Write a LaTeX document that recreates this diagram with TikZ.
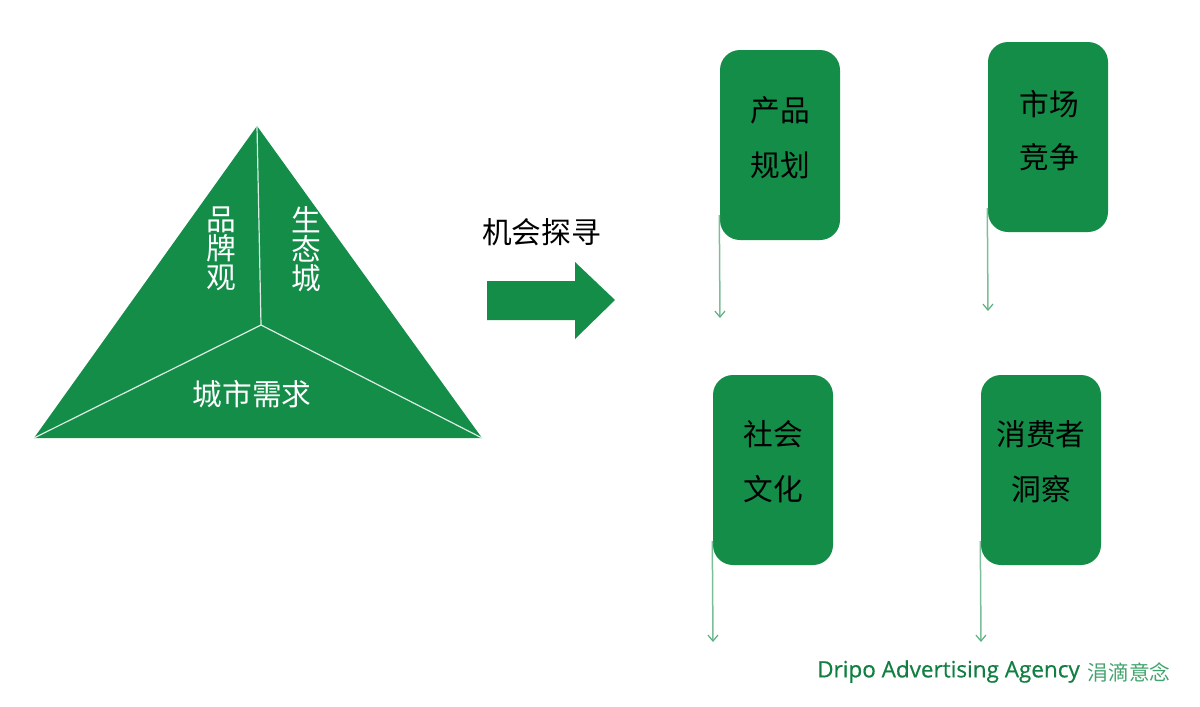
\documentclass[tikz,border=0pt]{standalone}
\usepackage{fontspec}
\setmainfont{Noto Sans CJK SC}
\newfontfamily\latinfont[FakeBold=0.6]{Open Sans}
\usetikzlibrary{arrows.meta}
\definecolor{dripgreen}{HTML}{138D48}
\definecolor{thingreen}{HTML}{7DBE9A}
\tikzset{card/.append style={minimum width=1.2cm, minimum height=1.9cm, fill=dripgreen, rounded corners=0.2cm, inner sep=0}}
\tikzset{cardtext/.append style={font=\fontsize{8.45}{8.45}\selectfont, align=center, inner sep=0}}
\tikzset{wedgetext/.append style={text=white, font=\fontsize{8.45}{8.3}\selectfont, align=center, inner sep=0}}
\tikzset{seam/.append style={draw=white!85!dripgreen, line width=0.012cm}}
\tikzset{drop/.append style={draw=thingreen, line width=0.015cm, -{Straight Barb[length=0.06cm,width=0.1cm,line width=0.012cm,dripgreen!70!white]}}}

\begin{document}
\begin{tikzpicture}
                \useasboundingbox (0,0) rectangle (12,7.06);
                % triangle
                \coordinate (top) at (2.57,5.80);
                \coordinate (left) at (0.34,2.68);
                \coordinate (right) at (4.82,2.68);
                \coordinate (mid) at (2.61,3.81);
                \fill[dripgreen] (top) -- (right) -- (left) -- cycle;
                \draw[seam] (top) -- (mid);
                \draw[seam] (left) -- (mid);
                \draw[seam] (right) -- (mid);
                \node[wedgetext] (brand) at (2.21,4.57) {品\\牌\\观};
                \node[wedgetext] (eco) at (3.06,4.57) {生\\态\\城};
                \node[wedgetext] (city) at (2.52,3.12) {城市需求};
                % big arrow
                \fill[dripgreen] (4.87,4.25) -- (5.75,4.25) -- (5.75,4.44) -- (6.15,4.06) -- (5.75,3.67) -- (5.75,3.86) -- (4.87,3.86) -- cycle;
                \node[cardtext] (seek) at (5.415,4.74) {机会探寻};
                % cards
                \node[card] (prod) at (7.80,5.61) {};
                \node[card] (market) at (10.48,5.69) {};
                \node[card] (social) at (7.73,2.36) {};
                \node[card] (consumer) at (10.41,2.36) {};
                \node[cardtext] (prodtext) at (7.80,5.685) {产品\\[0.25cm]规划};
                \node[cardtext] (markettext) at (10.49,5.755) {市场\\[0.24cm]竞争};
                \node[cardtext] (socialtext) at (7.735,2.445) {社会\\[0.25cm]文化};
                \node[cardtext] (consumertext) at (10.41,2.445) {消费者\\[0.25cm]洞察};
                % drops
                \coordinate (prodend) at (7.20,3.88);
                \coordinate (marketend) at (9.88,3.95);
                \coordinate (socialend) at (7.13,0.64);
                \coordinate (consumerend) at (9.81,0.64);
                \draw[drop] (prod.west |- 0,4.91) -- (prodend);
                \draw[drop] (market.west |- 0,4.98) -- (marketend);
                \draw[drop] (social.west |- 0,1.65) -- (socialend);
                \draw[drop] (consumer.west |- 0,1.65) -- (consumerend);
                % agency line
                \node[anchor=west, inner sep=0, text=dripgreen!90!black, font=\latinfont\fontsize{6.4}{6.4}\selectfont] (agency) at (8.165,0.345) {Dripo Advertising Agency};
                \node[anchor=west, inner sep=0, text=dripgreen!80!white, font=\fontsize{5.9}{5.9}\selectfont] (agencycn) at (10.87,0.34) {涓滴意念};
            \end{tikzpicture}
\end{document}
